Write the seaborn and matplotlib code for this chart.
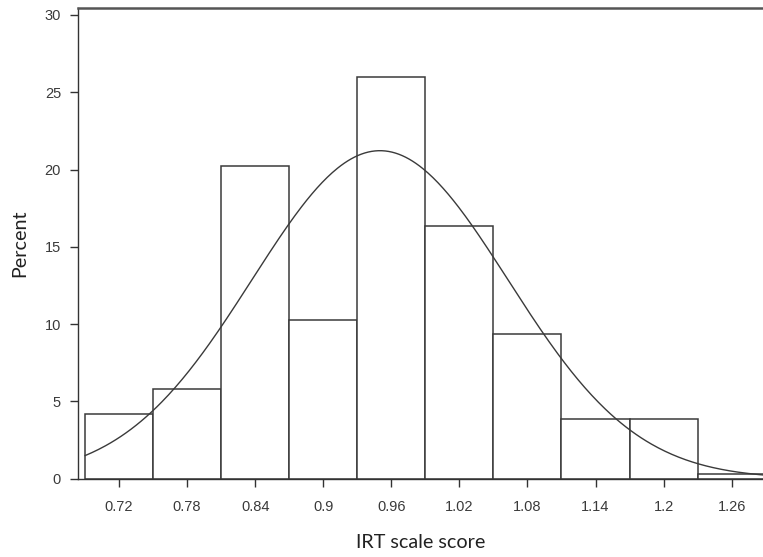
import numpy as np
import pandas as pd
import matplotlib
matplotlib.use("Agg")
import matplotlib.pyplot as plt
import seaborn as sns

# Histogram of IRT scale scores (percent per bin) with fitted normal curve
bin_edges = [0.69, 0.75, 0.81, 0.87, 0.93, 0.99, 1.05, 1.11, 1.17, 1.23, 1.29]
percent = [4.17, 5.82, 20.2, 10.25, 26.0, 16.35, 9.34, 3.88, 3.88, 0.28]
tick_values = [0.72, 0.78, 0.84, 0.9, 0.96, 1.02, 1.08, 1.14, 1.2, 1.26]
tick_labels = ["0.72", "0.78", "0.84", "0.9", "0.96", "1.02", "1.08", "1.14", "1.2", "1.26"]
y_ticks = [0, 5, 10, 15, 20, 25, 30]

# Normal fit parameters
fit_mean = 0.950
fit_sd = 0.1128

sns.set_theme(style="white")
plt.rcParams["font.family"] = ["Liberation Sans", "DejaVu Sans"]

fig = plt.figure(figsize=(7.63, 5.57), dpi=100)
ax = fig.add_axes([0.1018, 0.1406, 0.8982, 0.8450])

centers = [(a + b) / 2 for a, b in zip(bin_edges[:-1], bin_edges[1:])]
hist_df = pd.DataFrame({"score": centers, "pct": percent})
sns.histplot(data=hist_df, x="score", weights="pct", bins=bin_edges,
             stat="count", color="white", edgecolor="#3a3a3a",
             linewidth=1.1, alpha=1.0, ax=ax, zorder=2)

# Fitted normal density scaled to percent per bin
width = bin_edges[1] - bin_edges[0]
xs = np.linspace(bin_edges[0], bin_edges[-1], 400)
ys = 100 * width * np.exp(-0.5 * ((xs - fit_mean) / fit_sd) ** 2) / (fit_sd * np.sqrt(2 * np.pi))
curve_df = pd.DataFrame({"x": xs, "y": ys})
sns.lineplot(data=curve_df, x="x", y="y", color="#3a3a3a", linewidth=1.0, ax=ax, zorder=3)

ax.set_xlim(0.6836, 1.2876)
ax.set_ylim(0, 30.45)
ax.set_xticks(tick_values)
ax.set_xticklabels(tick_labels)
ax.set_yticks(y_ticks)

ax.tick_params(axis="both", which="major", direction="out", length=6, width=1.0,
               color="#333333", labelsize=10.5, labelcolor="#3a3a3a",
               bottom=True, left=True)
ax.tick_params(axis="x", pad=9)
ax.tick_params(axis="y", pad=6)

for side in ["left", "bottom"]:
    ax.spines[side].set_color("#333333")
    ax.spines[side].set_linewidth(1.0)
ax.spines["top"].set_color("#555555")
ax.spines["top"].set_linewidth(1.8)
ax.spines["right"].set_visible(False)

ax.set_xlabel("IRT scale score", family=["Lato", "DejaVu Sans"], fontsize=14.2,
              color="#222222", labelpad=15)
ax.set_ylabel("Percent", family=["Lato", "DejaVu Sans"], fontsize=14.2,
              color="#222222", labelpad=12)

fig.savefig("out.png", dpi=100)
